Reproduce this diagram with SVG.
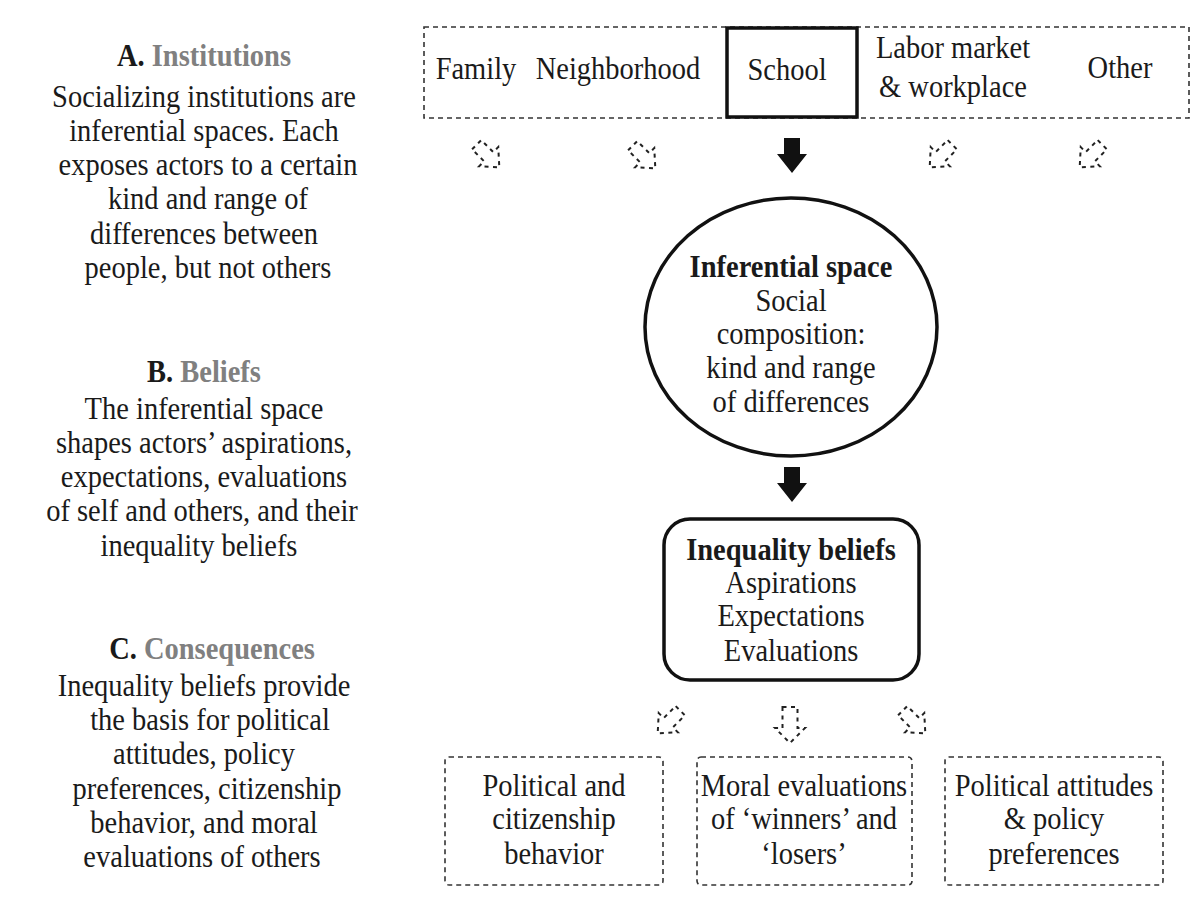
<svg xmlns="http://www.w3.org/2000/svg" width="1198" height="913" viewBox="0 0 1198 913">
  <style>
    text { font-family: "Liberation Serif", "Times New Roman", serif; font-size: 28.5px; fill: #1a1a1a; text-anchor: middle;
           transform-box: fill-box; transform-origin: 50% 55%; transform: scaleY(1.1); }
    .b { font-weight: bold; }
    .g { fill: #808080; font-weight: bold; }
    .dash { fill: none; stroke: #333; stroke-width: 1.6; stroke-dasharray: 5 4; }
    .solid { fill: none; stroke: #111; stroke-width: 3.5; }
    .darrow { fill: none; stroke: #222; stroke-width: 2; stroke-dasharray: 4 4.5; }
    .sarrow { fill: #111; stroke: none; }
  </style>
  <defs>
    <!-- small hollow block arrow pointing down, centred on the origin -->
    <path id="hollow" d="M-6.5,-16 H6.5 V1 H13.5 L0,16 L-13.5,1 H-6.5 Z"/>
    <path id="hollowBig" d="M-7.5,-18 H7.5 V3 H15 L0,18 L-15,3 H-7.5 Z"/>
    <!-- solid block arrow pointing down -->
    <path id="block" d="M-8,-17 H8 V-1 H15 L0,18 L-15,-1 H-8 Z"/>
  </defs>

  <!-- left column: explanatory text -->
  <g id="legend">
    <text x="204" y="65"><tspan class="b">A.</tspan> <tspan class="g">Institutions</tspan></text>
    <text x="204" y="106">Socializing  institutions are</text>
    <text x="204" y="140">inferential spaces. Each</text>
    <text x="208" y="174">exposes actors to a certain</text>
    <text x="208" y="208">kind and range of</text>
    <text x="204" y="243">differences between</text>
    <text x="208" y="277">people, but not others</text>

    <text x="204" y="381"><tspan class="b">B.</tspan> <tspan class="g">Beliefs</tspan></text>
    <text x="204" y="418">The inferential  space</text>
    <text x="204" y="452">shapes actors’ aspirations,</text>
    <text x="204" y="486">expectations, evaluations</text>
    <text x="202" y="520">of self and others, and their</text>
    <text x="199" y="555">inequality  beliefs</text>

    <text x="212" y="658"><tspan class="b">C.</tspan> <tspan class="g">Consequences</tspan></text>
    <text x="204" y="695">Inequality beliefs provide</text>
    <text x="210" y="729">the basis for political</text>
    <text x="204" y="763">attitudes, policy</text>
    <text x="207" y="798">preferences, citizenship</text>
    <text x="204" y="832">behavior, and moral</text>
    <text x="202" y="866">evaluations  of others</text>
  </g>

  <!-- top row: socializing institutions -->
  <g id="institutions">
    <rect class="dash" x="424" y="27" width="765" height="91"/>
    <text x="476" y="78">Family</text>
    <text x="618" y="78">Neighborhood</text>
    <text x="953" y="57">Labor market</text>
    <text x="953" y="96">&amp; workplace</text>
    <text x="1120" y="77">Other</text>
  </g>
  <g id="school">
    <rect class="solid" x="727" y="28" width="130" height="89" fill="#fff"/>
    <text x="787" y="79">School</text>
  </g>

  <!-- central circle -->
  <g id="inferential-space">
    <ellipse class="solid" cx="791" cy="327" rx="146" ry="129" stroke-width="3"/>
    <text class="b" x="791" y="276">Inferential space</text>
    <text x="791" y="310">Social</text>
    <text x="791" y="343">composition:</text>
    <text x="791" y="377">kind and range</text>
    <text x="791" y="411">of differences</text>
  </g>

  <!-- beliefs box -->
  <g id="inequality-beliefs">
    <rect class="solid" x="664" y="519" width="255" height="161" rx="26" stroke-width="3"/>
    <text class="b" x="791" y="559">Inequality beliefs</text>
    <text x="791" y="592">Aspirations</text>
    <text x="791" y="625">Expectations</text>
    <text x="791" y="660">Evaluations</text>
  </g>

  <!-- consequences -->
  <g id="political-behavior">
    <rect class="dash" x="445" y="757" width="218" height="128" rx="4"/>
    <text x="554" y="795">Political  and</text>
    <text x="554" y="828">citizenship</text>
    <text x="554" y="863">behavior</text>
  </g>
  <g id="moral-evaluations">
    <rect class="dash" x="697" y="757" width="215" height="128" rx="4"/>
    <text x="804" y="795">Moral evaluations</text>
    <text x="804" y="828">of ‘winners’ and</text>
    <text x="804" y="863">‘losers’</text>
  </g>
  <g id="political-attitudes">
    <rect class="dash" x="945" y="757" width="218" height="128" rx="4"/>
    <text x="1054" y="795">Political  attitudes</text>
    <text x="1054" y="828">&amp; policy</text>
    <text x="1054" y="863">preferences</text>
  </g>

  <!-- connectors -->
  <g id="connectors">
    <use href="#hollow" class="darrow" transform="translate(488,156) rotate(-45)"/>
    <use href="#hollow" class="darrow" transform="translate(644,157) rotate(-45)"/>
    <use href="#block" class="sarrow" transform="translate(792,155)"/>
    <use href="#hollow" class="darrow" transform="translate(941,156) rotate(45)"/>
    <use href="#hollow" class="darrow" transform="translate(1091,156) rotate(45)"/>

    <use href="#block" class="sarrow" transform="translate(792,484)"/>

    <use href="#hollow" class="darrow" transform="translate(669,722) rotate(45)"/>
    <use href="#hollowBig" class="darrow" transform="translate(790,725)"/>
    <use href="#hollow" class="darrow" transform="translate(914,722) rotate(-45)"/>
  </g>
</svg>
